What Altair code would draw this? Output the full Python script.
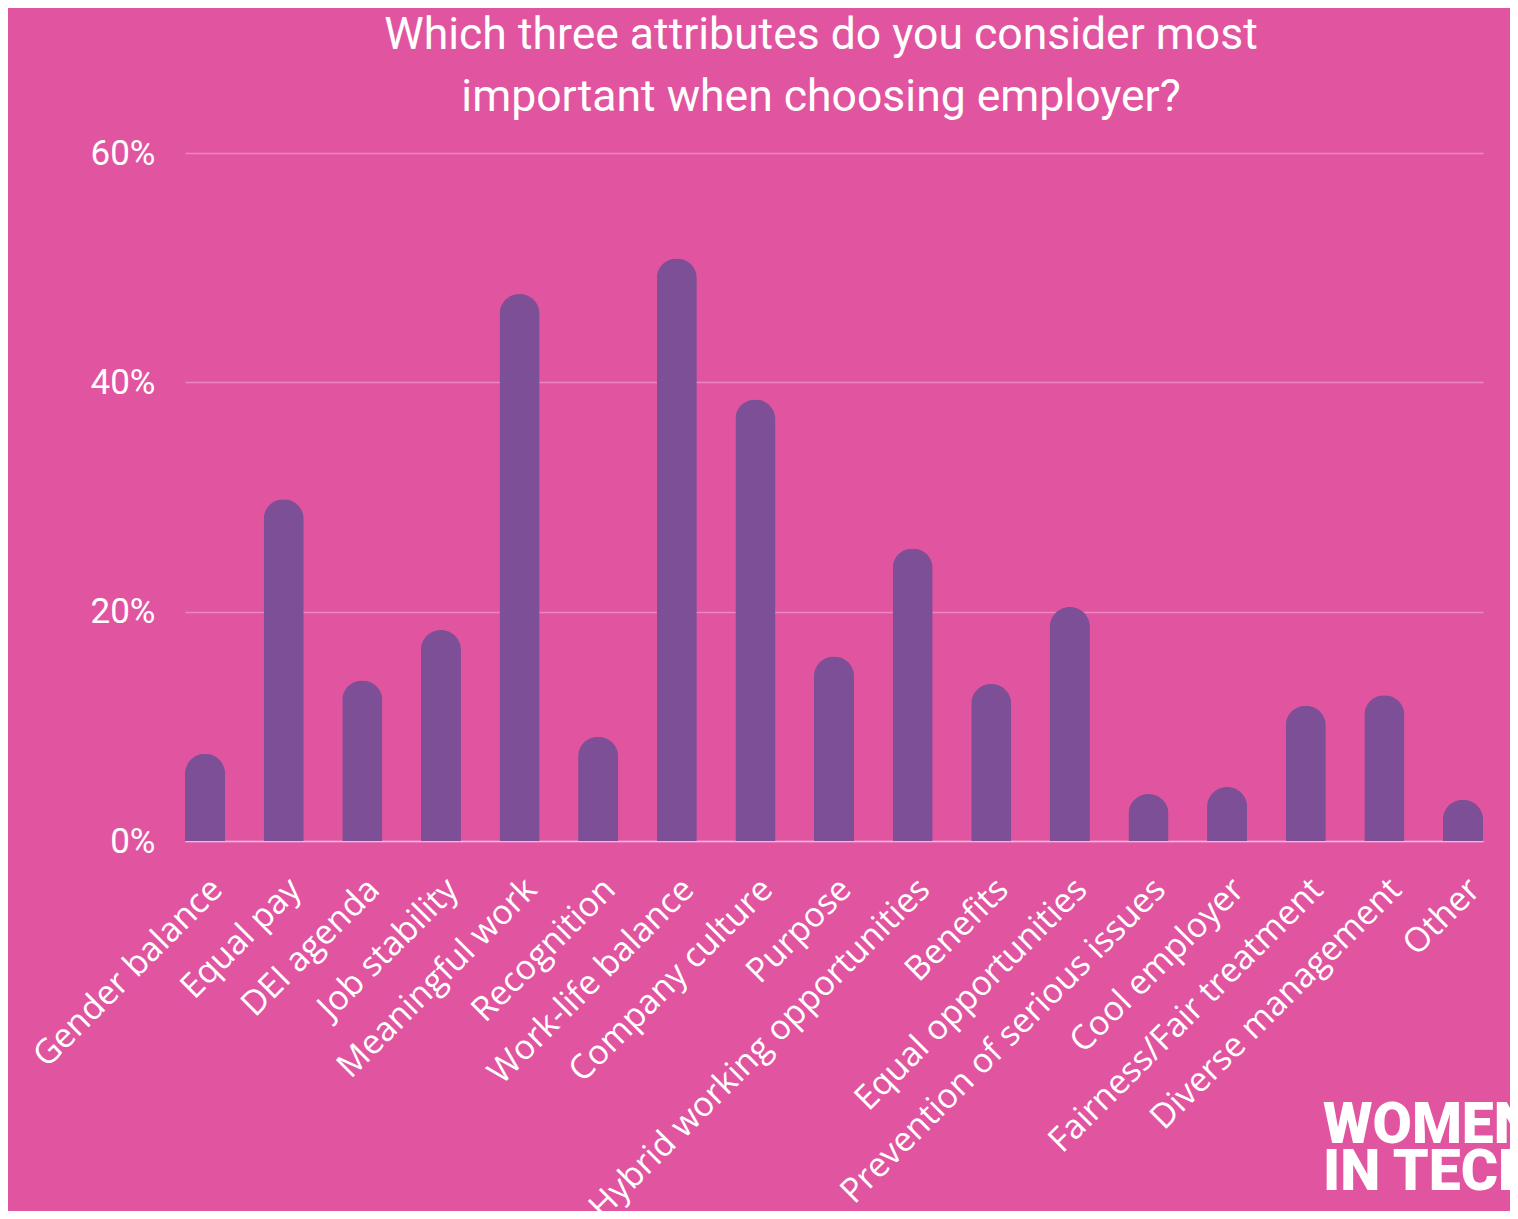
import altair as alt
import pandas as pd

categories = [
    "Gender balance", "Equal pay", "DEI agenda", "Job stability", "Meaningful work",
    "Recognition", "Work-life balance", "Company culture", "Purpose",
    "Hybrid working opportunities", "Benefits", "Equal opportunities",
    "Prevention of serious issues", "Cool employer", "Fairness/Fair treatment",
    "Diverse management", "Other",
]
values = [0.076, 0.298, 0.140, 0.184, 0.477, 0.091, 0.508, 0.385, 0.161,
          0.255, 0.137, 0.204, 0.041, 0.047, 0.118, 0.127, 0.036]

title_lines = ["Which three attributes do you consider most",
               "important when choosing employer?"]
logo_line1 = ["WOMEN"]
logo_line2 = ["IN TECH"]

df = pd.DataFrame({"attribute": categories, "share": values})

BG = "#E155A0"
BAR = "#7D4F96"

bars = alt.Chart(df).mark_bar(
    color=BAR, cornerRadiusTopLeft=20, cornerRadiusTopRight=20
).encode(
    x=alt.X("attribute:N", sort=categories, title=None,
            scale=alt.Scale(paddingInner=0.49, paddingOuter=0),
            axis=alt.Axis(labelAngle=-45, labelFont="Open Sans",
                          labelFontSize=34, labelColor="white", ticks=False,
                          domainColor="#F3B5D8", domainWidth=1.5,
                          labelPadding=31, labelLimit=700)),
    y=alt.Y("share:Q", title=None,
            scale=alt.Scale(domain=[0, 0.6]),
            axis=alt.Axis(format=".0%", values=[0, 0.2, 0.4, 0.6],
                          labelFont="Roboto", labelFontSize=35,
                          labelColor="white", domain=False, ticks=False,
                          labelPadding=30, gridColor="#EC86C1", gridWidth=1.3)),
)


def logo_text(lines, y_px):
    d = pd.DataFrame({"line": lines})
    return alt.Chart(d).mark_text(
        align="left", baseline="alphabetic", font="Roboto", fontWeight=900,
        fontSize=57, color="white"
    ).encode(text="line:N", x=alt.value(1138), y=alt.value(y_px))


logo1 = logo_text(logo_line1, 990)
logo2 = logo_text(logo_line2, 1037)

chart = alt.layer(bars, logo1, logo2).properties(
    width=1298, height=688,
    background=BG,
    padding={"left": 177, "top": 145, "right": 27, "bottom": 370},
    autosize=alt.AutoSizeParams(type="none"),
    title=alt.TitleParams(title_lines, font="Roboto", fontSize=44.5,
                          fontWeight="normal", color="white", anchor="middle",
                          lineHeight=62, offset=16, dx=-13),
).configure_view(stroke=None)

chart.save("out.html", embed_options={"renderer": "svg", "actions": False})
